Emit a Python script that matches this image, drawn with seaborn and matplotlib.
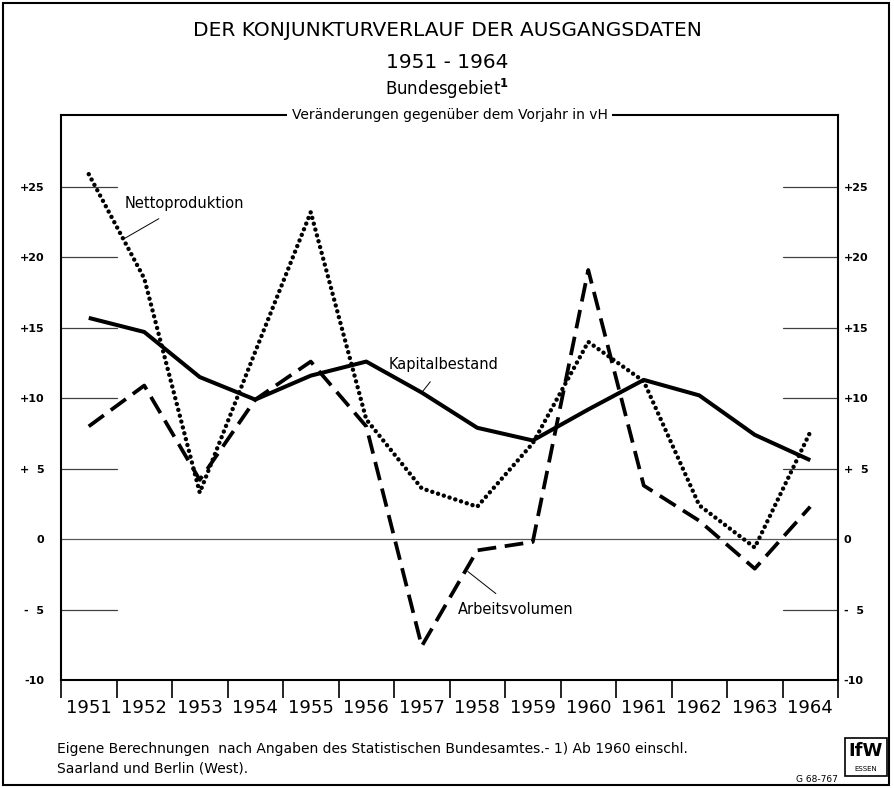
import numpy as np
import pandas as pd
import matplotlib
matplotlib.use("Agg")
import matplotlib.pyplot as plt
from matplotlib.patches import Rectangle
import seaborn as sns

sns.set_theme(style="white")
plt.rcParams['font.family'] = ['DejaVu Sans']
plt.rcParams['text.color'] = 'black'
plt.rcParams['xtick.color'] = 'black'
plt.rcParams['ytick.color'] = 'black'

# --- data (Veränderungen gegenüber dem Vorjahr in vH) ---
years = list(range(1951, 1965))
kapitalbestand = [15.7, 14.7, 11.5, 9.9, 11.6, 12.6, 10.4, 7.9, 7.0, 9.2, 11.3, 10.2, 7.4, 5.6]
nettoproduktion = [25.9, 18.5, 3.3, 13.3, 23.2, 8.5, 3.6, 2.3, 6.8, 14.0, 11.2, 2.4, -0.6, 7.6]
arbeitsvolumen = [8.0, 10.9, 4.2, 9.9, 12.6, 8.0, -7.6, -0.8, -0.2, 19.1, 3.8, 1.3, -2.1, 2.3]
ytick_vals = [25, 20, 15, 10, 5, 0, -5, -10]
ytick_labels = ['+25', '+20', '+15', '+10', '+  5', '0', '-  5', '-10']

df = pd.DataFrame({
    'year': years * 3,
    'value': kapitalbestand + nettoproduktion + arbeitsvolumen,
    'series': ['Kapitalbestand'] * 14 + ['Nettoproduktion'] * 14 + ['Arbeitsvolumen'] * 14,
})

fig = plt.figure(figsize=(8.94, 7.88), dpi=100)
ax = fig.add_axes([61 / 894, 1 - 680 / 788, (838 - 61) / 894, (680 - 115) / 788])

styles = {
    'Kapitalbestand': dict(linestyle='-', lw=2.9, solid_capstyle='butt'),
    'Nettoproduktion': dict(linestyle=(0, (0.01, 1.35)), lw=3.2, dash_capstyle='round'),
    'Arbeitsvolumen': dict(linestyle=(0, (5, 2.3)), lw=2.7, dash_capstyle='butt'),
}
for name, kw in styles.items():
    sub = df[df['series'] == name]
    sns.lineplot(data=sub, x='year', y='value', ax=ax, color='black', zorder=3, **kw)

ax.set_xlim(1950.5, 1964.5)
ax.set_ylim(-10, 30.1)

# short reference lines in first and last column, zero line across
for v in ytick_vals:
    if v == 0:
        ax.axhline(0, color='0.35', lw=0.9, zorder=1)
    else:
        ax.plot([1950.5, 1951.5], [v, v], color='0.25', lw=0.9, zorder=1)
        ax.plot([1963.5, 1964.5], [v, v], color='0.25', lw=0.9, zorder=1)

ax.set_yticks(ytick_vals)
ax.set_yticklabels(ytick_labels, fontweight='bold')
ax.tick_params(axis='y', length=0, labelsize=8, pad=12)

# right-hand scale
ax2 = ax.twinx()
ax2.set_ylim(ax.get_ylim())
ax2.set_yticks(ytick_vals)
ax2.set_yticklabels(ytick_labels, fontweight='bold')
ax2.tick_params(axis='y', length=0, labelsize=8, pad=4)
ax2.grid(False)
for sp in ax2.spines.values():
    sp.set_visible(False)

ax.set_xticks(years)
ax.set_xticklabels([str(y) for y in years])
ax.set_xticks(np.arange(1950.5, 1965, 1), minor=True)
ax.tick_params(axis='x', which='major', length=0, labelsize=13, pad=14)
ax.tick_params(axis='x', which='minor', length=13, width=1.2, color='black',
               direction='out', bottom=True)
ax.set_xlabel('')
ax.set_ylabel('')
for sp in ax.spines.values():
    sp.set_visible(True)
    sp.set_color('black')
    sp.set_linewidth(1.5)

# series labels with leader lines
lab_kw = dict(fontsize=10.5, color='black', ha='center', va='center', zorder=5)
arrow_kw = dict(arrowstyle='-', lw=0.7, color='black', shrinkA=6, shrinkB=0)
ax.annotate('Nettoproduktion', xy=(1951.65, 21.35), xytext=(1952.73, 23.8),
            arrowprops=arrow_kw, **lab_kw)
ax.annotate('Kapitalbestand', xy=(1957.0, 10.4), xytext=(1957.4, 12.4),
            arrowprops=arrow_kw, **lab_kw)
ax.annotate('Arbeitsvolumen', xy=(1957.83, -2.3), xytext=(1958.7, -5.0),
            arrowprops=arrow_kw, **lab_kw)

# subtitle interrupting the top frame
ax.text(0.5, 1.0, 'Veränderungen gegenüber dem Vorjahr in vH', transform=ax.transAxes,
        ha='center', va='center', fontsize=10,
        bbox=dict(facecolor='white', edgecolor='none', pad=3), zorder=10, clip_on=False)

# titles
fig.text(0.5, 1 - 30 / 788, 'DER KONJUNKTURVERLAUF DER AUSGANGSDATEN',
         ha='center', va='center', fontsize=14.5)
fig.text(0.5, 1 - 62 / 788, '1951 - 1964', ha='center', va='center', fontsize=14.5)
fig.text(0.5, 1 - 89 / 788, 'Bundesgebiet$^{\\bf 1}$', ha='center', va='center', fontsize=12)

# footnote
fig.text(57 / 894, 1 - 749 / 788,
         'Eigene Berechnungen  nach Angaben des Statistischen Bundesamtes.- 1) Ab 1960 einschl.',
         ha='left', va='center', fontsize=10)
fig.text(57 / 894, 1 - 768 / 788, 'Saarland und Berlin (West).',
         ha='left', va='center', fontsize=10)
fig.text(838 / 894, 1 - 779 / 788, 'G 68-767', ha='right', va='center', fontsize=6.5)

# IfW logo box
fig.patches.append(Rectangle((845 / 894, 1 - 776 / 788), 42 / 894, 38 / 788,
                             transform=fig.transFigure, fill=False, lw=1.2,
                             edgecolor='black'))
fig.text(866 / 894, 1 - 751 / 788, 'IfW', ha='center', va='center',
         fontsize=13, fontweight='bold')
fig.text(866 / 894, 1 - 769 / 788, 'ESSEN', ha='center', va='center', fontsize=5)

# outer frame
fig.patches.append(Rectangle((3 / 894, 3 / 788), 886 / 894, 782 / 788,
                             transform=fig.transFigure, fill=False, lw=1.5,
                             edgecolor='black'))

fig.savefig('out.png', dpi=100)
